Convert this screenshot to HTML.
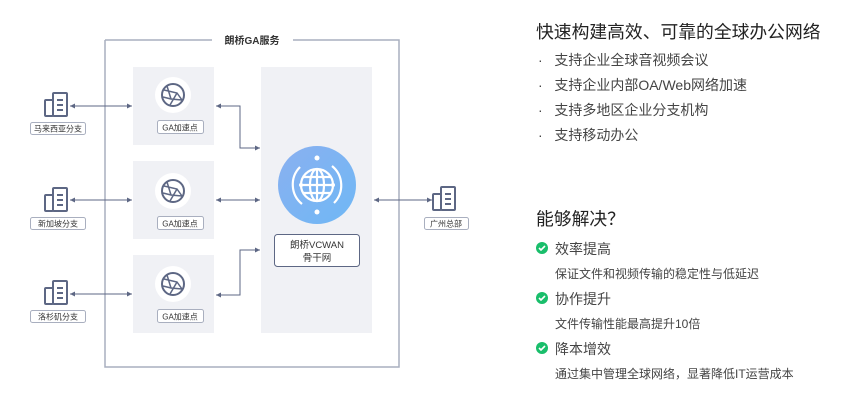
<!DOCTYPE html>
<html><head><meta charset="utf-8"><style>
body{margin:0;width:858px;height:402px;background:#fff;overflow:hidden;position:relative;font-family:"Liberation Sans","Noto Sans CJK SC",sans-serif}
.t{position:absolute;white-space:nowrap;color:#333}
</style></head><body>
<svg width="858" height="402" style="position:absolute;left:0;top:0" font-family="Liberation Sans, Noto Sans CJK SC, sans-serif">
<defs>
<marker id="a" markerWidth="6" markerHeight="6" refX="5" refY="3" orient="auto-start-reverse"><path d="M0,0.5 L5,3 L0,5.5z" fill="#5d6784"/></marker>
<linearGradient id="g" x1="0" y1="0" x2="1" y2="1"><stop offset="0" stop-color="#8ab0f0"/><stop offset="1" stop-color="#6fb8f5"/></linearGradient>
<g id="ga"><circle r="18" fill="#fff"/><circle r="11" fill="none" stroke="#5d6784" stroke-width="2"/><path d="M-9,-5 L4,-2 L9,5 M4,-2 L-3,10 M-6,-9 L-2,4 L9,5 M-2,4 L-10,2" fill="none" stroke="#5d6784" stroke-width="1.5"/></g>
<g id="bd" fill="none" stroke="#5d6784" stroke-width="2"><rect x="0" y="8" width="8" height="16" rx="1"/><rect x="8" y="1" width="14" height="23" rx="1"/><path d="M12,8h6M12,13h6M12,18h6"/></g>
</defs>
<path d="M105,40 H212 M293,40 H399 V367 H105 V40" fill="none" stroke="#a9afbf" stroke-width="1.5"/>
<text x="252" y="44" font-size="10" font-weight="bold" fill="#333" text-anchor="middle">朗桥GA服务</text>
<rect x="133" y="67" width="81" height="78" fill="#f0f1f5"/>
<rect x="133" y="161" width="81" height="78" fill="#f0f1f5"/>
<rect x="133" y="255" width="81" height="78" fill="#f0f1f5"/>
<rect x="261" y="67" width="111" height="266" fill="#f0f1f5"/>
<use href="#ga" x="173" y="95"/><use href="#ga" x="173" y="191"/><use href="#ga" x="173" y="284"/>
<g fill="#fff" stroke="#a9afbf" stroke-width="1">
<rect x="157.5" y="120.5" width="46" height="13" rx="2"/><rect x="157.5" y="216.5" width="46" height="13" rx="2"/><rect x="157.5" y="309.5" width="46" height="13" rx="2"/>
<rect x="30.5" y="122.5" width="55" height="12" rx="2"/><rect x="30.5" y="217.5" width="55" height="12" rx="2"/><rect x="30.5" y="310.5" width="55" height="12" rx="2"/>
<rect x="424.5" y="217.5" width="44" height="12" rx="2"/>
</g>
<g font-size="8" fill="#333" text-anchor="middle">
<text x="180" y="130.5">GA加速点</text><text x="180" y="226.5">GA加速点</text><text x="180" y="319.5">GA加速点</text>
<text x="58" y="131.5">马来西亚分支</text><text x="58" y="226.5">新加坡分支</text><text x="58" y="319.5">洛杉矶分支</text>
<text x="446" y="226.5">广州总部</text>
</g>
<use href="#bd" x="45" y="92"/><use href="#bd" x="45" y="187"/><use href="#bd" x="45" y="280"/>
<use href="#bd" x="433" y="186"/>
<circle cx="317" cy="185" r="39" fill="url(#g)"/>
<g fill="none" stroke="#fff" stroke-width="2.2"><circle cx="317" cy="185" r="16"/><ellipse cx="317" cy="185" rx="7" ry="16"/><path d="M301,185H333M303,177H331M303,193H331M317,169V201"/>
<path d="M300,167 A25,25 0 0 0 302,204 M334,203 A25,25 0 0 0 332,166"/></g>
<g fill="#fff"><circle cx="317" cy="158" r="2.5"/><circle cx="317" cy="212" r="2.5"/><circle cx="301" cy="185" r="2"/><circle cx="333" cy="185" r="2"/></g>
<rect x="274.5" y="234.5" width="85" height="32" rx="3" fill="#fff" stroke="#5d6784"/>
<text x="317" y="248" font-size="9.5" fill="#333" text-anchor="middle">朗桥VCWAN</text>
<text x="317" y="261" font-size="9.5" fill="#333" text-anchor="middle">骨干网</text>
<g stroke="#5d6784" stroke-width="1" fill="none">
<path d="M70,106H132" marker-start="url(#a)" marker-end="url(#a)"/>
<path d="M70,200H132" marker-start="url(#a)" marker-end="url(#a)"/>
<path d="M70,294H132" marker-start="url(#a)" marker-end="url(#a)"/>
<path d="M216,106H240V148H260" marker-start="url(#a)" marker-end="url(#a)"/>
<path d="M216,200H260" marker-start="url(#a)" marker-end="url(#a)"/>
<path d="M216,295H240V250H260" marker-start="url(#a)" marker-end="url(#a)"/>
<path d="M374,200H432" marker-start="url(#a)" marker-end="url(#a)"/>
</g>
<g fill="#19be6b"><circle cx="542" cy="248" r="6"/><circle cx="542" cy="298" r="6"/><circle cx="542" cy="348" r="6"/></g>
<g stroke="#fff" stroke-width="1.6" fill="none"><path d="M539,248l2,2 4,-4M539,298l2,2 4,-4M539,348l2,2 4,-4"/></g>
</svg>
<div class="t" style="left:536px;top:18px;font-size:17.8px;color:#222">快速构建高效、可靠的全球办公网络</div>
<div class="t" style="left:538px;top:48px;font-size:14px;color:#444;line-height:25px">·&nbsp;&nbsp;&nbsp;支持企业全球音视频会议<br>·&nbsp;&nbsp;&nbsp;支持企业内部OA/Web网络加速<br>·&nbsp;&nbsp;&nbsp;支持多地区企业分支机构<br>·&nbsp;&nbsp;&nbsp;支持移动办公</div>
<div class="t" style="left:536px;top:205px;font-size:17.8px;color:#222">能够解决？</div>
<div class="t" style="left:555px;top:239px;font-size:14px;color:#444">效率提高</div>
<div class="t" style="left:555px;top:265px;font-size:12px;color:#444">保证文件和视频传输的稳定性与低延迟</div>
<div class="t" style="left:555px;top:289px;font-size:14px;color:#444">协作提升</div>
<div class="t" style="left:555px;top:315px;font-size:12px;color:#444">文件传输性能最高提升10倍</div>
<div class="t" style="left:555px;top:339px;font-size:14px;color:#444">降本增效</div>
<div class="t" style="left:555px;top:365px;font-size:12px;color:#444">通过集中管理全球网络，显著降低IT运营成本</div>
</body></html>
